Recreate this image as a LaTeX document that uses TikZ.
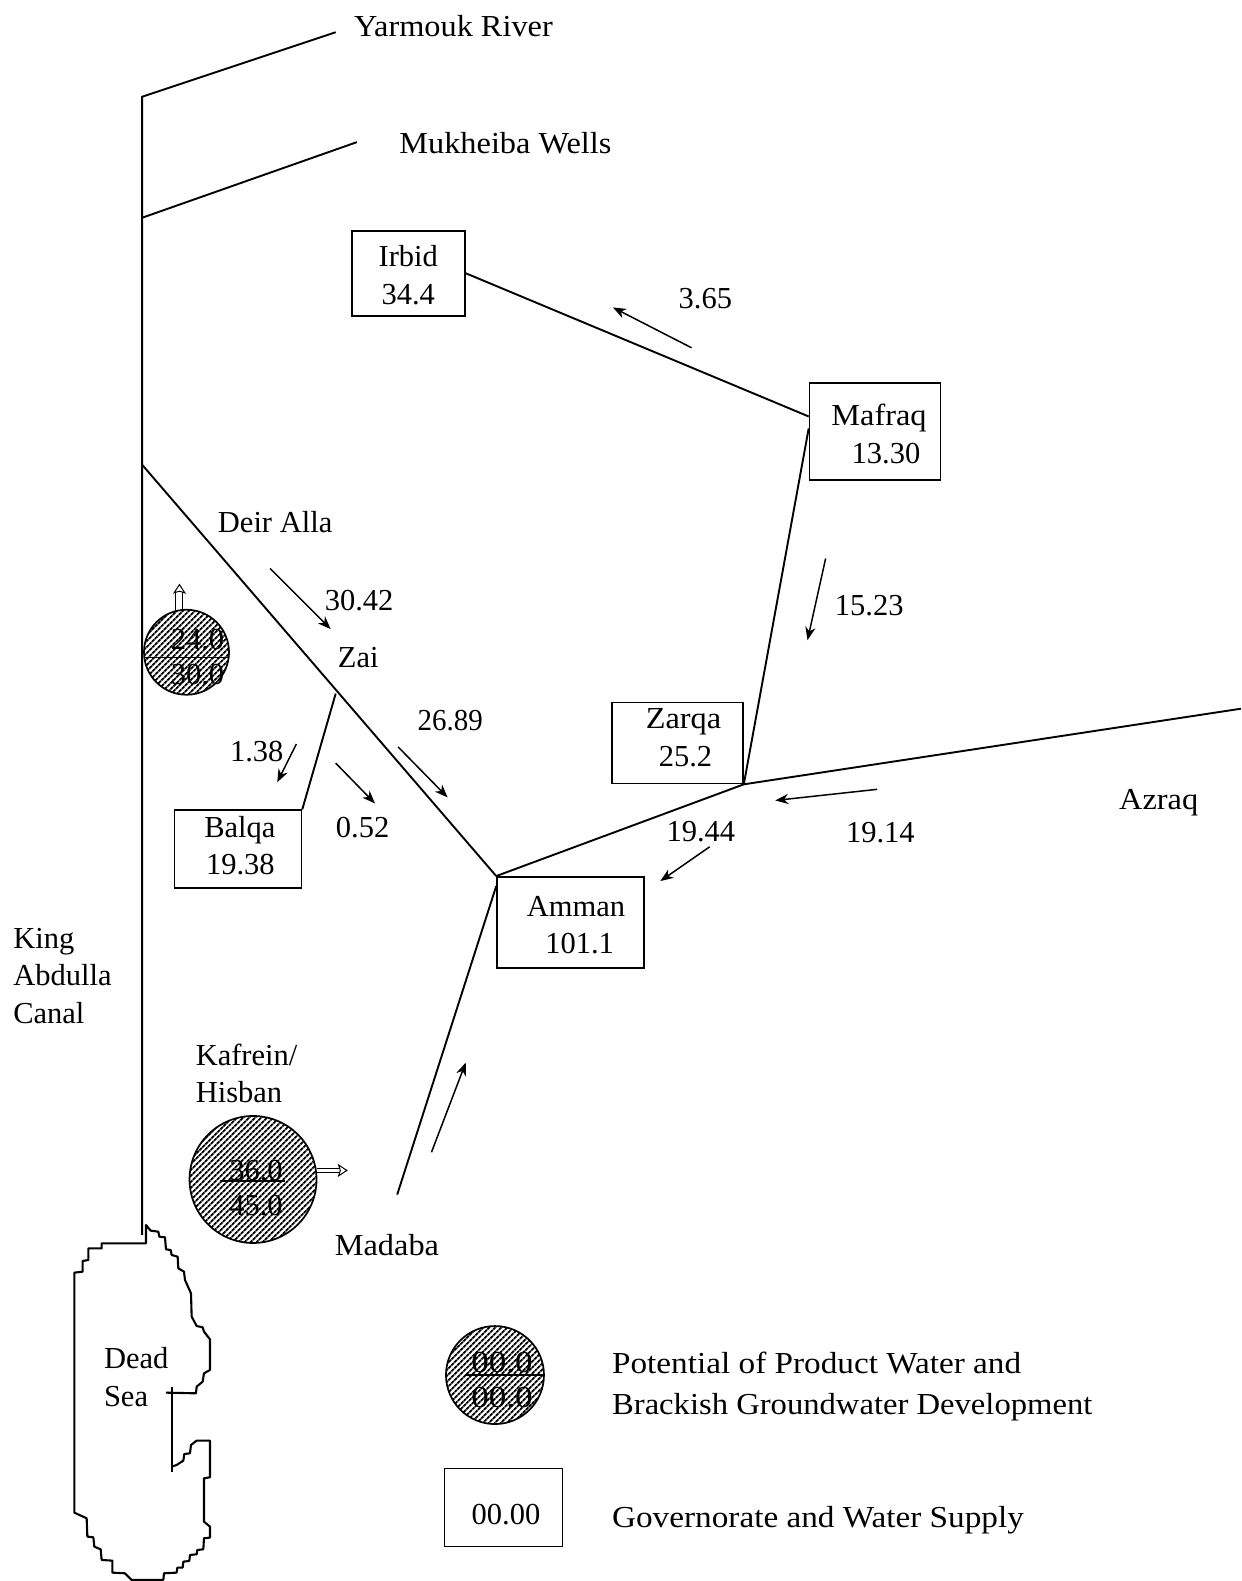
\documentclass[tikz,border=0pt]{standalone}
\usepackage{fontspec}
\setmainfont{Liberation Serif}
\newfontfamily\wordf[FakeStretch=1.06]{Liberation Serif}
\newfontfamily\legf[FakeStretch=1.09]{Liberation Serif}
\newfontfamily\legb[FakeStretch=1.07]{Liberation Serif}
\newfontfamily\numf[FakeStretch=.95]{Liberation Serif}
\newfontfamily\wellf[FakeStretch=1.15]{Liberation Serif}
\usetikzlibrary{arrows.meta,patterns.meta}
\newcommand{\twolines}[5]{\raisebox{#1pt}[0pt][0pt]{\begin{tabular}{@{}c@{}}\hspace*{#2pt}#3\\\hspace*{#4pt}#5\end{tabular}}}
\newcommand{\welltext}[4]{\makebox[0pt]{\hspace*{#1pt}\raisebox{#2pt}[0pt][0pt]{\begin{tabular}{@{}c@{}}#3\\[-2.5pt]#4\end{tabular}}}}
\tikzset{
  lbl/.style={inner sep=0pt,anchor=base west},
  blk/.style={inner sep=0pt,align=left,anchor=west},
  gov/.style={draw,line width=1.7pt,fill=white,inner sep=0pt,minimum width=#1},
  conn/.style={line width=1.9pt},
  flow/.style={line width=1.5pt,-{Stealth[length=13pt,width=10pt,inset=4pt]}},
  dflow/.style={line width=1pt,double,double distance=#1,-{Stealth[length=10pt,width=13pt,inset=2pt,fill=white]}},
  well/.style={circle,draw,line width=1.7pt,inner sep=0pt,minimum size=#1,
    pattern={Lines[angle=45,distance=4pt,line width=2pt]}}
}
\begin{document}
\begin{tikzpicture}[x=1.0081pt,y=-1.0081pt,every node/.style={font=\fontsize{30.5}{37.5}\selectfont}]
\useasboundingbox (0,0) rectangle (1232,1568.3);
% free ends and junctions
\coordinate (canaltop) at (141,96);
\coordinate (canalmid) at (141,216);
\coordinate (canalzai) at (141,461);
\coordinate (canalend) at (141,1225);
\coordinate (yarmoukend) at (333,32);
\coordinate (mukheibaend) at (354,141);
\coordinate (zai) at (333,688);
\coordinate (azraqend) at (1231,703);
\coordinate (madabaend) at (394,1185);
\coordinate (a1s) at (686,345); \coordinate (a1e) at (608,305);
\coordinate (a2s) at (819,554); \coordinate (a2e) at (801,635);
\coordinate (a3s) at (268,564); \coordinate (a3e) at (328,624);
\coordinate (a4s) at (395,741); \coordinate (a4e) at (444,791);
\coordinate (a5s) at (333,757); \coordinate (a5e) at (372,797);
\coordinate (a6s) at (294,738); \coordinate (a6e) at (275,776);
\coordinate (a7s) at (870,783); \coordinate (a7e) at (769,794);
\coordinate (a8s) at (704,840); \coordinate (a8e) at (655,874);
\coordinate (a9s) at (428,1143); \coordinate (a9e) at (462,1054);
\coordinate (d1s) at (178,606);
\coordinate (d1e) at (178,579);
\coordinate (d2s) at (314,1161);
\coordinate (d2e) at (345,1161);
% boxes
\node[gov=113pt,minimum height=85pt] (irbid) at (405,271) {\twolines{-11}{0}{Irbid}{0}{34.4}};
\node[gov=131pt,minimum height=97pt] (mafraq) at (868,428) {\twolines{-11.5}{8}{\wordf Mafraq}{22}{13.30}};
\node[gov=131pt,minimum height=81pt] (zarqa) at (672,737) {\twolines{-3}{12}{\wordf Zarqa}{16}{25.2}};
\node[gov=127pt,minimum height=78pt] (balqa) at (236,842.5) {\twolines{-5.5}{4}{Balqa}{5}{19.38}};
\node[gov=147pt,minimum height=91pt] (amman) at (566,915) {\twolines{-11.5}{11}{Amman}{18}{101.1}};
\node[gov=118pt,minimum height=78pt] (legbox) at (499.5,1495.5) {\raisebox{-16.5pt}[0pt][0pt]{\hspace*{5pt}00.00}};
% connectors
\draw[conn] (yarmoukend) -- (canaltop) -- (canalend);
\draw[conn] (canalmid) -- (mukheibaend);
\draw[conn] (canalzai) -- (amman.north west);
\draw[conn] (zai) -- (balqa.north east);
\draw[conn] (irbid.east) -- ([yshift=15pt]mafraq.west);
\draw[conn] ([yshift=3pt]mafraq.west) -- (zarqa.south east);
\draw[conn] (zarqa.south east) -- (amman.north west);
\draw[conn] (zarqa.south east) -- (azraqend);
\draw[conn] ([yshift=-10pt]amman.north west) -- (madabaend);
% flow arrows
\foreach \n in {1,...,9} {\draw[flow] (a\n s) -- (a\n e);}
% circles
\draw[dflow=6pt] (d1s) -- (d1e);
\draw[dflow=3pt] (d2s) -- (d2e);
\node[well=85pt] (wellzai) at (185,647) {\welltext{22}{-13}{24.0}{30.0}};
\node[well=127pt] (wellkaf) at (251,1170) {\welltext{6}{-17}{36.0}{45.0}};
\node[well=98pt] (wellleg) at (491,1364) {\welltext{14}{-13.5}{\wellf 00.0}{\wellf 00.0}};
\draw[line width=1.4pt] ([shift={(1pt,-5pt)}]wellzai.west) -- ([shift={(-1pt,-5pt)}]wellzai.east);
\draw[line width=1.4pt] ([shift={(-33pt,-1.5pt)}]wellkaf.center) -- ([shift={(32pt,-1.5pt)}]wellkaf.center);
\draw[line width=1.4pt] ([xshift=-30pt]wellleg.center) -- ([xshift=49pt]wellleg.center);
% labels
\node[lbl] (lyarmouk) at (351,36) {\wordf Yarmouk River};
\node[lbl] (lmukheiba) at (396,152) {\wordf Mukheiba Wells};
\node[lbl] (ldeir) at (216,528) {Deir Alla};
\node[lbl] (l3042) at (322,606) {30.42};
\node[lbl] (lzai) at (335,662) {Zai};
\node[lbl] (l2689) at (414,725) {\numf 26.89};
\node[lbl] (l138) at (228,755) {1.38};
\node[lbl] (l052) at (333,831) {0.52};
\node[lbl] (l1523) at (828,611) {15.23};
\node[lbl] (l365) at (673,306) {3.65};
\node[lbl] (l1944) at (661,835) {19.44};
\node[lbl] (l1914) at (839,836) {19.14};
\node[lbl] (lazraq) at (1110,803) {\wordf Azraq};
\node[blk] (lking) at (13,968) {King\\Abdulla\\Canal};
\node[blk] (lkaf) at (194,1065) {Kafrein/\\Hisban};
\node[lbl] (lmadaba) at (332,1245) {\wordf Madaba};
\node[blk] (ldead) at (103,1366) {Dead\\Sea};
\node[blk] (lpot) at (607,1375.5) {\legf Potential of Product Water and\\[3.5pt]\legb Brackish Groundwater Development};
\node[lbl] (lgov) at (607,1515) {\legf Governorate and Water Supply};
% Dead Sea outline
\begin{scope}[shift={(59.52,1190.35)},x=0.3333pt,y=-0.3333pt]
\draw[line width=2.1pt,line join=round]
 (243,130)--(125,130)--(125,145)--(85,145)--(85,180)--(68,183)--(68,215)--(43,218)--(43,938)
 --(80,955)--(82,1010)--(100,1012)--(103,1040)--(122,1048)--(125,1080)--(157,1082)--(157,1118)
 --(195,1120)--(215,1140)--(310,1140)--(312,1120)--(350,1118)--(352,1103)--(368,1103)--(370,1085)
 --(388,1083)--(390,1065)--(410,1063)--(412,1050)--(430,1048)--(432,1015)--(450,1013)--(450,980)
 --(432,965)--(432,835)--(450,832)--(450,722)--(410,722)--(393,735)--(390,760)--(373,762)
 --(370,782)--(350,795)--(335,800);
\draw[line width=2.1pt] (335,815)--(335,562);
\draw[line width=2.1pt,line join=round]
 (318,578)--(408,580)--(410,560)--(428,545)--(432,520)--(450,510)--(450,418)--(432,395)--(428,382)
 --(410,378)--(395,350)--(393,280)--(375,240)--(372,215)--(355,205)--(353,170)--(335,165)--(332,150)
 --(318,148)--(315,112)--(298,110)--(295,95)--(272,92)--(258,75)--(258,130)--(243,130);
\end{scope}
\end{tikzpicture}
\end{document}
